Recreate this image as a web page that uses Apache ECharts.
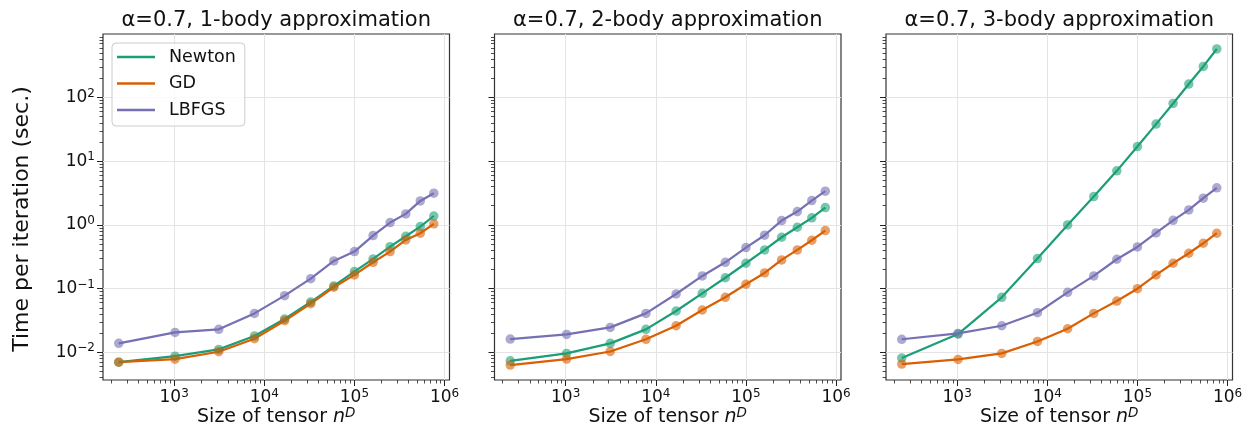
<!DOCTYPE html>
<html><head><meta charset="utf-8">
<script src="https://cdn.jsdelivr.net/npm/echarts@6/dist/echarts.min.js"></script>
<style>html,body{margin:0;padding:0;background:#fff}#c{width:1245px;height:426px}</style>
</head><body><div id="c"></div>
<script>
// Tensor sizes n^D (n = 3..15, D = 5)
const sizes = [243, 1024, 3125, 7776, 16807, 32768, 59049, 100000, 161051, 248832, 371293, 537824, 759375];
const methodNames = ['Newton', 'GD', 'LBFGS'];
const methodColors = ['#1b9e77', '#d95f02', '#7570b3'];
const panelTitles = ['α=0.7, 1-body approximation', 'α=0.7, 2-body approximation', 'α=0.7, 3-body approximation'];

// Time per iteration (sec.)
const newton1 = [0.0070, 0.0087, 0.0111, 0.0180, 0.0333, 0.0615, 0.110, 0.185, 0.292, 0.456, 0.664, 0.942, 1.38];
const gd1     = [0.0070, 0.0078, 0.0102, 0.0163, 0.0313, 0.058, 0.105, 0.164, 0.259, 0.381, 0.581, 0.740, 1.04];
const lbfgs1  = [0.0138, 0.0205, 0.0229, 0.0408, 0.0775, 0.143, 0.272, 0.381, 0.679, 1.09, 1.49, 2.38, 3.15];

const newton2 = [0.00735, 0.0096, 0.0138, 0.0229, 0.0445, 0.0842, 0.148, 0.250, 0.405, 0.640, 0.919, 1.29, 1.87];
const gd2     = [0.00629, 0.00781, 0.0103, 0.0160, 0.0261, 0.0461, 0.0730, 0.117, 0.176, 0.282, 0.405, 0.574, 0.814];
const lbfgs2  = [0.0161, 0.0191, 0.0246, 0.0408, 0.0822, 0.158, 0.259, 0.440, 0.689, 1.17, 1.62, 2.41, 3.39];

const newton3 = [0.00811, 0.0193, 0.073, 0.296, 1.00, 2.79, 7.06, 17.0, 38.3, 80.7, 163, 308, 579];
const gd3     = [0.00652, 0.00773, 0.0096, 0.0148, 0.0234, 0.0408, 0.0638, 0.0996, 0.164, 0.250, 0.359, 0.515, 0.740];
const lbfgs3  = [0.0160, 0.0198, 0.0261, 0.0418, 0.0874, 0.158, 0.289, 0.451, 0.749, 1.18, 1.72, 2.63, 3.82];

const panels = [[newton1, gd1, lbfgs1], [newton2, gd2, lbfgs2], [newton3, gd3, lbfgs3]];

const xMajorTicks = [1e3, 1e4, 1e5, 1e6];
const yMajorTicks = [1e-2, 1e-1, 1e0, 1e1, 1e2];
const xRange = [162.5, 1.134e6];
const yRange = [0.00367, 995];

function minorTicks(range) {
  const out = [];
  for (let k = -4; k <= 6; k++) {
    for (let m = 2; m <= 9; m++) {
      const v = m * Math.pow(10, k);
      if (v > range[0] && v < range[1]) out.push(v);
    }
  }
  return out;
}
const xMinorTicks = minorTicks(xRange);
const yMinorTicks = minorTicks(yRange);

const FONT = 'DejaVu Sans';
const gridLefts = [103, 494.5, 886];
const gridW = 346.5, gridTop = 34, gridH = 346;

function sci(v) {
  const e = Math.round(Math.log10(v));
  return '{b|10}{s|' + (e < 0 ? '\u2212' + (-e) : e) + '}';
}
const tickRich = {
  b: { fontSize: 17, fontFamily: FONT, color: '#111' },
  s: { fontSize: 12, fontFamily: FONT, color: '#111', padding: [0, 0, 8, 0] }
};

const grids = [], xAxes = [], yAxes = [], series = [], graphics = [];
for (let p = 0; p < 3; p++) {
  grids.push({ left: gridLefts[p], top: gridTop, width: gridW, height: gridH, show: true,
    borderColor: '#333', borderWidth: 1.2, backgroundColor: 'transparent', containLabel: false,
    outerBoundsMode: 'none' });
  xAxes.push({
    type: 'log', gridIndex: p, min: xRange[0], max: xRange[1], position: 'bottom',
    axisLine: { show: false },
    axisTick: { show: true, customValues: xMajorTicks, length: 6, lineStyle: { color: '#222', width: 1 } },
    axisLabel: { show: true, customValues: xMajorTicks, formatter: sci, rich: tickRich, margin: 8 },
    splitLine: { show: true, lineStyle: { color: '#e4e4e4', width: 1 } },
    minorTick: { show: false },
    name: '{a|Size of tensor }{i|n}{s|D}', nameLocation: 'middle', nameGap: 26, nameMoveOverlap: false,
    nameTextStyle: { rich: {
      a: { fontSize: 19, fontFamily: FONT, color: '#111' },
      i: { fontSize: 19, fontFamily: FONT, fontStyle: 'italic', color: '#111' },
      s: { fontSize: 13.5, fontFamily: FONT, fontStyle: 'italic', color: '#111', padding: [0, 0, 9, 0] }
    } }
  });
  xAxes.push({
    type: 'log', gridIndex: p, min: xRange[0], max: xRange[1], position: 'bottom',
    axisLine: { show: false }, axisLabel: { show: false }, splitLine: { show: false },
    axisTick: { show: true, customValues: xMinorTicks, length: 3.5, lineStyle: { color: '#222', width: 0.8 } }
  });
  yAxes.push({
    type: 'log', gridIndex: p, min: yRange[0], max: yRange[1], position: 'left',
    axisLine: { show: false },
    axisTick: { show: true, customValues: yMajorTicks, length: 6, lineStyle: { color: '#222', width: 1 } },
    axisLabel: { show: p === 0, customValues: yMajorTicks, formatter: sci, rich: tickRich, margin: 8 },
    splitLine: { show: true, lineStyle: { color: '#e4e4e4', width: 1 } },
    minorTick: { show: false }
  });
  yAxes.push({
    type: 'log', gridIndex: p, min: yRange[0], max: yRange[1], position: 'left',
    axisLine: { show: false }, axisLabel: { show: false }, splitLine: { show: false },
    axisTick: { show: true, customValues: yMinorTicks, length: 3.5, lineStyle: { color: '#222', width: 0.8 } }
  });
  for (let m = 0; m < 3; m++) {
    const vals = panels[p][m];
    series.push({
      name: methodNames[m], type: 'line', xAxisIndex: 2 * p, yAxisIndex: 2 * p,
      data: sizes.map((x, j) => [x, vals[j]]),
      symbol: 'circle', symbolSize: 9.5, showSymbol: true,
      itemStyle: { color: methodColors[m], opacity: 0.6 },
      lineStyle: { color: methodColors[m], width: 2.2 },
      emphasis: { disabled: true }, silent: true, animation: false
    });
  }
  graphics.push({
    type: 'text', x: gridLefts[p] + gridW / 2, y: 20.5, silent: true,
    style: { text: panelTitles[p], fontSize: 21, fontFamily: FONT, fill: '#111',
      textAlign: 'center', textVerticalAlign: 'middle' }
  });
}
graphics.push({
  type: 'text', x: 22, y: 219, rotation: Math.PI / 2, silent: true,
  style: { text: 'Time per iteration (sec.)', fontSize: 22, fontFamily: FONT, fill: '#111',
    textAlign: 'center', textVerticalAlign: 'middle' }
});

const chart = echarts.init(document.getElementById('c'), null, { renderer: 'canvas' });
chart.setOption({
  animation: false,
  backgroundColor: '#fff',
  grid: grids, xAxis: xAxes, yAxis: yAxes, series: series, graphic: graphics,
  legend: {
    orient: 'vertical', left: 112, top: 43, selectedMode: false,
    data: methodNames.map((n, i) => ({ name: n, icon: 'rect', itemStyle: { color: methodColors[i], opacity: 1 } })),
    itemWidth: 38, itemHeight: 2.5, itemGap: 8.5,
    padding: [5, 9, 7, 5],
    backgroundColor: 'rgba(255,255,255,0.8)', borderColor: '#cccccc', borderWidth: 1, borderRadius: 4,
    textStyle: { fontSize: 17.5, fontFamily: FONT, color: '#111', padding: [0, 0, 0, 9] }
  }
});
</script></body></html>
